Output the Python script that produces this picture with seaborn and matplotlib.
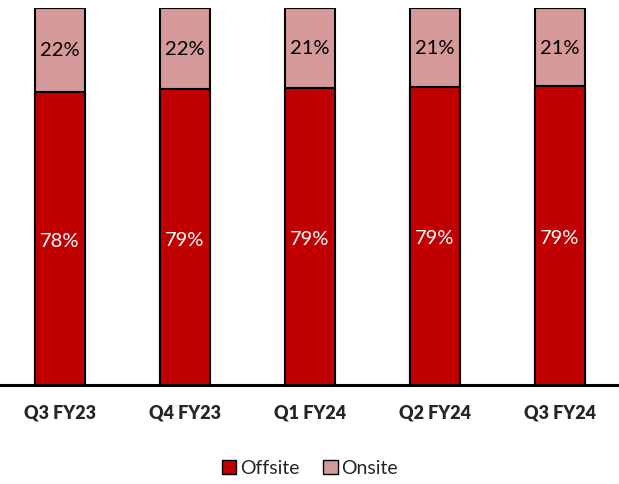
import matplotlib
matplotlib.use("Agg")
import matplotlib.pyplot as plt
import seaborn as sns
import pandas as pd
from matplotlib.patches import Patch

categories = ["Q3 FY23", "Q4 FY23", "Q1 FY24", "Q2 FY24", "Q3 FY24"]
offsite = [77.8, 78.5, 78.9, 79.1, 79.3]
onsite = [22.2, 21.5, 21.1, 20.9, 20.7]

sns.set_theme(style="white")
plt.rcParams['font.family'] = ['Lato', 'DejaVu Sans']

df = pd.DataFrame({"cat": categories, "offsite": offsite, "onsite": onsite})
df["total"] = df["offsite"] + df["onsite"]

fig = plt.figure(figsize=(6.19, 4.84), dpi=100)
ax = fig.add_axes([0, (484-385)/484, 1, 377/484])

c_off = "#C00000"
c_on = "#D69999"

sns.barplot(data=df, x="cat", y="total", color=c_on, width=0.4, ax=ax,
            edgecolor="black", linewidth=1.5, saturation=1)
sns.barplot(data=df, x="cat", y="offsite", color=c_off, width=0.4, ax=ax,
            edgecolor="black", linewidth=1.5, saturation=1)

def r(v):
    return int(v + 0.5)

for i, (o, n) in enumerate(zip(offsite, onsite)):
    ax.text(i, o / 2 - 0.8, f"{r(o)}%", ha="center", va="center", color="white", fontsize=14.5)
    ax.text(i, o + n / 2 - 0.3, f"{r(n)}%", ha="center", va="center", color="black", fontsize=14.5)

ax.set_xlim(-0.48, 4.472)
ax.set_ylim(0, 100)
ax.set_xlabel("")
ax.set_ylabel("")
ax.set_yticks([])
for s in ["top", "right", "left"]:
    ax.spines[s].set_visible(False)
ax.spines["bottom"].set_color("black")
ax.spines["bottom"].set_linewidth(2.2)
ax.tick_params(axis="x", length=0, pad=14)
for lbl in ax.get_xticklabels():
    lbl.set_fontweight("heavy")
    lbl.set_fontsize(13)

handles = [Patch(facecolor=c_off, edgecolor="black", label="Offsite"),
           Patch(facecolor=c_on, edgecolor="black", label="Onsite")]
fig.legend(handles=handles, loc="center", bbox_to_anchor=(310/619, 1 - 468/484),
           ncol=2, frameon=False, fontsize=14, handlelength=0.75, handleheight=0.75,
           handletextpad=0.2, columnspacing=1.2)

fig.savefig("out.png", dpi=100)
